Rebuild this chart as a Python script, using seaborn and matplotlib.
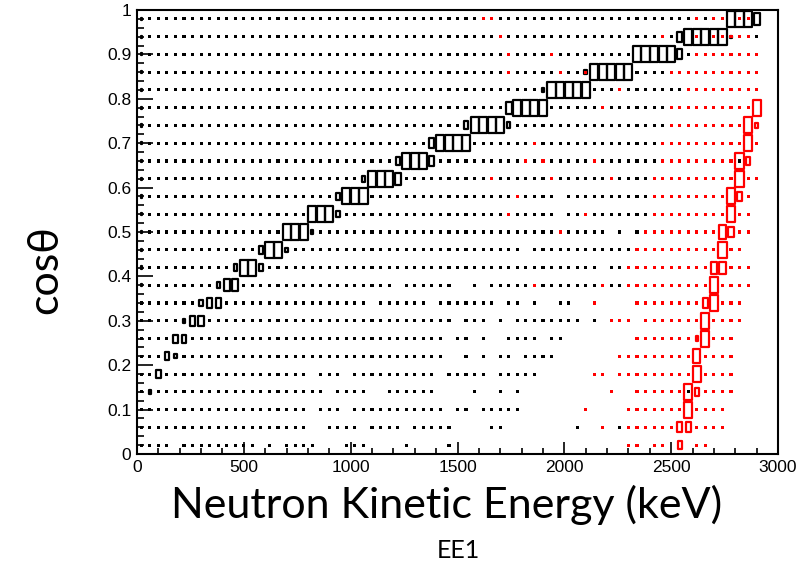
import numpy as np
import pandas as pd
import matplotlib
matplotlib.use("Agg")
import matplotlib.pyplot as plt
import seaborn as sns
from matplotlib.patches import Rectangle
from matplotlib.collections import PatchCollection
from matplotlib.ticker import MultipleLocator

# ---------------- data ----------------
# 2D histogram: 75 energy bins of 40 keV (0-3000 keV), 25 cos(theta) bins of 0.04.
E_BIN = 40.0
C_BIN = 0.04
# row index 0 = lowest cos(theta) bin ; entries are energy-bin indices
# "dots" = small (near-empty) cells ; boxes "bin:level" with level 1..9 (relative size)
black_dots = [
    "0,1-3,5-13,15,17-20,24-26,31,36",
    "0,1-19,22-25,27-30,32-36,41-42,51,56",
    "0,1-19,21-23,25-35,37-38,40-44",
    "0,2-21,23-26,29-34,39,42,44,64",
    "0,1,3-19,21-23,25-34,36-40,42-46",
    "0,1-2,5-35,38,40,42-43,45-48",
    "0,1-3,6-35,37-38,40,43-46,48-49",
    "0,1-4,8-36,38-40,42,44-51,53",
    "0,1-6,10-26,28-33,35-41,43-44,46,49-50",
    "1-8,12-29,31-36,39,41-45,47-53,55-56",
    "1-10,15-53,55-56",
    "1-13,18-44,46-57",
    "1-16,21-48,50-54,56,58",
    "1-19,24-42,44-48,50-51,53-59",
    "1-22,27-43,45-48,50-59",
    "1-25,31-40,42-47,49-54,56-59",
    "1-29,35-44,46,48-52,54-60,70",
    "1-33,39-45,47-60",
    "1-37,44-61",
    "1-42,48-53,55-61",
    "1-46,53-55,57-63",
    "1-42,44-48,50-51,58-61",
    "1-42,44-47,49-57,64",
    "1-41,43-60,62,72",
    "1-39,42-64,66",
]
black_boxes = [
    "", "", "",
    "1:3",
    "2:5",
    "3:5,4:3",
    "4:5,5:5",
    "5:3,6:6,7:6",
    "7:4,8:6,9:6",
    "0:2,9:4,10:7,11:7",
    "0:2,11:4,12:9,13:9,14:4",
    "0:2,14:5,15:9,16:9,17:3",
    "0:2,17:9,18:9,19:9,20:3",
    "0:2,20:9,21:9,22:9,23:4",
    "0:2,23:4,24:9,25:9,26:9",
    "0:2,26:4,27:9,28:9,29:9,30:7",
    "0:2,30:5,31:9,32:9,33:9,34:6",
    "0:2,34:6,35:9,36:9,37:9,38:9",
    "0:2,38:5,39:9,40:9,41:9,42:9,43:4",
    "0:2,43:7,44:9,45:9,46:9,47:9",
    "0:2,47:3,48:9,49:9,50:9,51:9,52:9",
    "0:2,52:3,53:9,54:9,55:9,56:9,57:9",
    "0:2,58:9,59:9,60:9,61:9,62:9,63:6",
    "0:2,63:6,64:9,65:9,66:9,67:9,68:9,69:2",
    "0:2,69:9,70:9,71:9,72:7",
]
red_dots = [
    "57-58,60-61,65-66",
    "54,57-62,65-68",
    "52,57-63,65-68",
    "55,58-63,66-69",
    "53-54,56-64,66-69",
    "56-64,66-69",
    "58-64,67-69",
    "55-57,59-65,67-70",
    "53,58-65,68-70",
    "46,54,57-66,68-71",
    "57-66,69-71",
    "58-67,69-70",
    "49,59-67,70-71",
    "43,52,60-68,70-71",
    "44,60-68,71",
    "41,48,55,60-69,71-72",
    "45,47,53,61-69",
    "46,61-70,72",
    "62-70",
    "54,62-71",
    "56,64-72",
    "43,49,52,62-72",
    "43,48,65-72",
    "42,61,65,67-71",
    "40-41,65,67-68,70-71",
]
red_boxes = [
    "63:5",
    "63:6,64:6",
    "64:9",
    "64:9,65:5",
    "65:9",
    "65:8",
    "65:3,66:9",
    "66:9",
    "66:6,67:9",
    "67:9",
    "67:7,68:7",
    "68:9",
    "68:8,69:6",
    "69:9",
    "69:9,70:5",
    "70:9",
    "70:9,71:5",
    "71:9",
    "71:9,72:3",
    "72:9",
    "", "", "", "", "",
]
x_ticks = [0, 500, 1000, 1500, 2000, 2500, 3000]
y_ticks = [0, 0.1, 0.2, 0.3, 0.4, 0.5, 0.6, 0.7, 0.8, 0.9, 1]
y_tick_labels = ["0", "0.1", "0.2", "0.3", "0.4", "0.5", "0.6", "0.7", "0.8", "0.9", "1"]
x_title = "Neutron Kinetic Energy (keV)"
y_title = "cosθ"
caption = "EE1"


# ---------------- helpers ----------------
def parse_dots(rows):
    recs = []
    for j, s in enumerate(rows):
        for part in filter(None, s.split(",")):
            if "-" in part:
                a, b = map(int, part.split("-"))
                bins = range(a, b + 1)
            else:
                bins = [int(part)]
            for i in bins:
                recs.append(((i + 0.5) * E_BIN, (j + 0.5) * C_BIN))
    return pd.DataFrame(recs, columns=["energy", "cos"])


def parse_boxes(rows):
    recs = []
    for j, s in enumerate(rows):
        for part in filter(None, s.split(",")):
            i, lev = map(int, part.split(":"))
            recs.append(((i + 0.5) * E_BIN, (j + 0.5) * C_BIN, lev / 9.0))
    return pd.DataFrame(recs, columns=["energy", "cos", "frac"])


def box_patches(df):
    pts = []
    for _, r in df.iterrows():
        w = max(r.frac * E_BIN - 2.0, 4.0)
        h = max(r.frac * C_BIN - 0.0040, 0.0035)
        pts.append(Rectangle((r.energy - w / 2, r.cos - h / 2), w, h))
    return pts


# ---------------- figure ----------------
sns.set_theme(style="ticks")
plt.rcParams["font.family"] = ["Liberation Sans", "DejaVu Sans"]

fig = plt.figure(figsize=(8.0, 5.65), dpi=100)
ax = fig.add_axes([137 / 800, 1 - 454 / 565, 641 / 800, 444 / 565])

bd = parse_dots(black_dots)
rd = parse_dots(red_dots)
bb = parse_boxes(black_boxes)
rb = parse_boxes(red_boxes)

dot_s = 5.0
sns.scatterplot(data=bd, x="energy", y="cos", marker="s", s=dot_s, color="black",
                edgecolor="none", linewidth=0, ax=ax, zorder=2, legend=False)
ax.add_collection(PatchCollection(box_patches(bb), facecolor="none",
                                  edgecolor="black", linewidth=1.6, zorder=3))
sns.scatterplot(data=rd, x="energy", y="cos", marker="s", s=dot_s, color="#ff0000",
                edgecolor="none", linewidth=0, ax=ax, zorder=4, legend=False)
ax.add_collection(PatchCollection(box_patches(rb), facecolor="none",
                                  edgecolor="#ff0000", linewidth=1.6, zorder=5))

ax.set_xlim(0, 3000)
ax.set_ylim(0, 1)
ax.set_xticks(x_ticks)
ax.set_xticklabels([str(t) for t in x_ticks])
ax.set_yticks(y_ticks)
ax.set_yticklabels(y_tick_labels)
ax.xaxis.set_minor_locator(MultipleLocator(100))
ax.yaxis.set_minor_locator(MultipleLocator(0.02))
ax.tick_params(axis="both", which="both", direction="in", top=False, right=False,
               width=1.2, color="black", labelsize=12.5, labelcolor="black")
ax.tick_params(axis="x", which="major", length=8.5, pad=4)
ax.tick_params(axis="x", which="minor", length=4.3)
ax.tick_params(axis="y", which="major", length=11.5, pad=4)
ax.tick_params(axis="y", which="minor", length=5.0)
for sp in ax.spines.values():
    sp.set_visible(True)
    sp.set_linewidth(1.5)
    sp.set_color("black")
ax.set_facecolor("white")

big = ["Lato", "Open Sans", "DejaVu Sans"]
ax.set_xlabel(x_title, fontsize=31, family=big, color="black")
ax.xaxis.set_label_coords((447 - 137) / 641, (454 - 505) / 444)
ax.xaxis.label.set_va("center")
ax.set_ylabel(y_title, fontsize=31, family=big, color="black")
ax.yaxis.set_label_coords((45 - 137) / 641, (454 - 270) / 444)
ax.yaxis.label.set_va("center")

fig.text(458 / 800, 1 - 550 / 565, caption, fontsize=18, family=big,
         ha="center", va="center", color="black")

fig.savefig("out.png", dpi=100, facecolor="white")
